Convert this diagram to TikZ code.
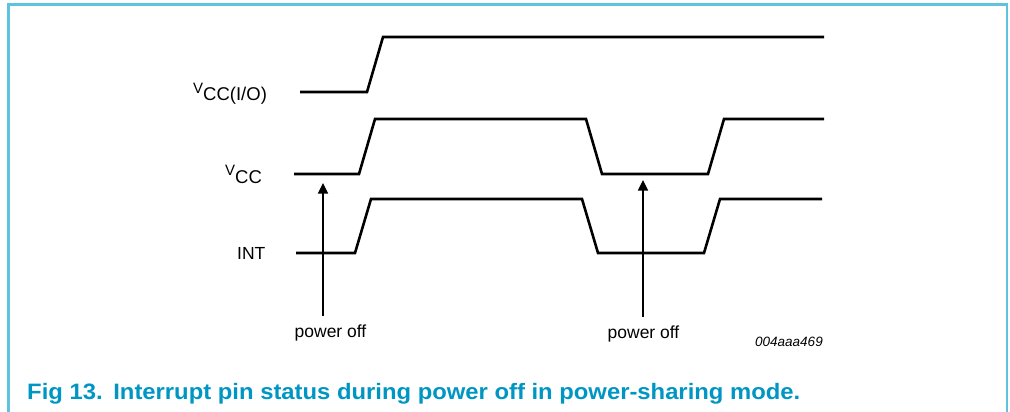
\documentclass[tikz,border=0pt]{standalone}
\usepackage{fontspec}
\setmainfont{Liberation Sans}
\usetikzlibrary{arrows.meta}
\definecolor{framecol}{RGB}{95,195,222}
\definecolor{captcol}{RGB}{0,150,196}
\tikzset{
  wave/.style={line width=2.6pt, line join=miter, black},
  marker/.style={line width=1.2pt, -{Triangle[length=10.5pt,width=10pt]}},
  lbl/.style={inner sep=0pt, anchor=base west, font=\fontsize{17.5}{17.5}\selectfont},
  note/.style={inner sep=0pt, anchor=base, font=\fontsize{17.5}{17.5}\selectfont}
}
\begin{document}
\begin{tikzpicture}[x=1pt,y=-1pt]
\useasboundingbox (0,0) rectangle (1010,412);
\fill[white] (0,0) rectangle (1010,412);
% frame
\draw[framecol, line width=2.2pt] (8.5,413) -- (8.5,4.5) -- (1007,4.5) -- (1007,413);
% labels
\node[lbl] (lvio) at (193,93.3) {\fontsize{15}{15}\selectfont V\raisebox{-7pt}{\fontsize{18.5}{18.5}\selectfont CC(I/O)}};
\node[lbl] (lvcc) at (225,175) {\fontsize{15}{15}\selectfont V\raisebox{-8pt}{\fontsize{18.5}{18.5}\selectfont CC}};
\node[lbl] (lint) at (237,259) {INT};
% waveforms
\coordinate (a0) at (300,92);
\coordinate (a1) at (367,92);
\coordinate (a2) at (383,37);
\coordinate (a3) at (824,37);
\draw[wave] (a0) -- (a1) -- (a2) -- (a3);
\coordinate (b0) at (294,174);
\coordinate (b1) at (359,174);
\coordinate (b2) at (375,119);
\coordinate (b3) at (586,119);
\coordinate (b4) at (602,174);
\coordinate (b5) at (708,174);
\coordinate (b6) at (724,119);
\coordinate (b7) at (824,119);
\draw[wave] (b0) -- (b1) -- (b2) -- (b3) -- (b4) -- (b5) -- (b6) -- (b7);
\coordinate (c0) at (296,253);
\coordinate (c1) at (355,253);
\coordinate (c2) at (371,199);
\coordinate (c3) at (582,199);
\coordinate (c4) at (598,253);
\coordinate (c5) at (704,253);
\coordinate (c6) at (720,199);
\coordinate (c7) at (822,199);
\draw[wave] (c0) -- (c1) -- (c2) -- (c3) -- (c4) -- (c5) -- (c6) -- (c7);
% power off markers
\coordinate (p1s) at (323,316);
\coordinate (p1e) at (323,183);
\coordinate (p2s) at (643,317);
\coordinate (p2e) at (643,180);
\draw[marker] (p1s) -- (p1e);
\draw[marker] (p2s) -- (p2e);
\node[note] (n1) at (330.5,337.5) {power off};
\node[note] (n2) at (643.5,338.5) {power off};
\node[inner sep=0pt, anchor=base west, font=\fontsize{13.5}{13.5}\selectfont\itshape] (code) at (755,346) {004aaa469};
% caption
\node[inner sep=0pt, anchor=base west, text=captcol, font=\fontsize{22.3}{22.3}\selectfont\bfseries] (cap) at (27,399.3)
  {\resizebox{773pt}{\height}{Fig 13.\hspace{0.45em}Interrupt pin status during power off in power-sharing mode.}};
\end{tikzpicture}
\end{document}
